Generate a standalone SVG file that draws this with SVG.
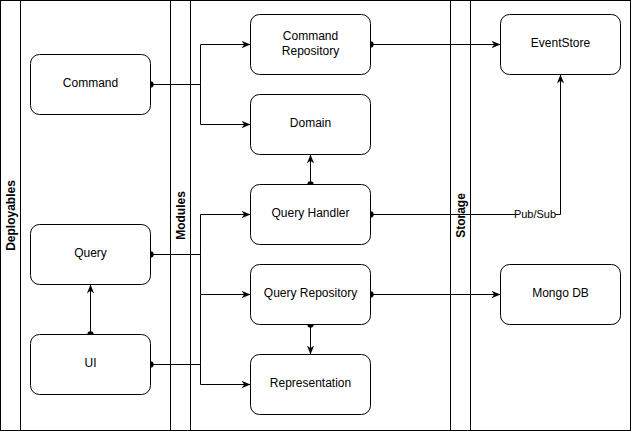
<svg xmlns="http://www.w3.org/2000/svg" width="631" height="431" viewBox="0 0 631 431">
<style>
.pool{fill:#fff;stroke:#000;stroke-width:1}
.node rect{fill:#fff;stroke:#000;stroke-width:1}
.node text{font-family:"Liberation Sans",Arial,sans-serif;font-size:12px;text-anchor:middle;fill:#000}
.ptitle{font-family:"Liberation Sans",Arial,sans-serif;font-size:12px;font-weight:bold;text-anchor:middle;fill:#000}
.edge{fill:none;stroke:#000;stroke-width:1}
.lbl{font-family:"Liberation Sans",Arial,sans-serif;font-size:11px;text-anchor:middle;fill:#000}
</style>
<defs>
<marker id="arr" viewBox="0 0 10 10" refX="10" refY="5" markerWidth="9" markerHeight="9" markerUnits="userSpaceOnUse" orient="auto">
<path d="M0,1 L10,5 L0,9 L3,5 Z" fill="#000"/>
</marker>
<marker id="dot" viewBox="0 0 10 10" refX="5" refY="5" markerWidth="7" markerHeight="7" markerUnits="userSpaceOnUse" orient="auto">
<circle cx="5" cy="5" r="4.5" fill="#000"/>
</marker>
</defs>
<rect width="631" height="431" fill="#fff"/>
<g id="pools">
<rect class="pool" x="0.5" y="0.5" width="630" height="430"/>
<line class="pool" x1="20.5" y1="0.5" x2="20.5" y2="430.5"/>
<line class="pool" x1="170.5" y1="0.5" x2="170.5" y2="430.5"/>
<line class="pool" x1="190.5" y1="0.5" x2="190.5" y2="430.5"/>
<line class="pool" x1="450.5" y1="0.5" x2="450.5" y2="430.5"/>
<line class="pool" x1="470.5" y1="0.5" x2="470.5" y2="430.5"/>
<text class="ptitle" transform="translate(14.5,215.5) rotate(-90)">Deployables</text>
<text class="ptitle" transform="translate(184.5,215.5) rotate(-90)">Modules</text>
<text class="ptitle" transform="translate(464.5,215.5) rotate(-90)">Storage</text>
</g>
<g id="connectors">
<path class="edge" d="M150.5,84.5 H200.5 V44.5 H250.5" marker-start="url(#dot)" marker-end="url(#arr)"/>
<path class="edge" d="M200.5,84.5 V124.5 H250.5" marker-end="url(#arr)"/>
<path class="edge" d="M150.5,254.5 H200.5 V214.5 H250.5" marker-start="url(#dot)" marker-end="url(#arr)"/>
<path class="edge" d="M200.5,254.5 V294.5 H250.5" marker-end="url(#arr)"/>
<path class="edge" d="M150.5,364.5 H200.5 V384.5 H250.5" marker-start="url(#dot)" marker-end="url(#arr)"/>
<path class="edge" d="M200.5,364.5 V294.5"/>
<path class="edge" d="M90.5,334.5 V284.5" marker-start="url(#dot)" marker-end="url(#arr)"/>
<path class="edge" d="M310.5,184.5 V154.5" marker-start="url(#dot)" marker-end="url(#arr)"/>
<path class="edge" d="M310.5,324.5 V354.5" marker-start="url(#dot)" marker-end="url(#arr)"/>
<path class="edge" d="M370.5,44.5 H500.5" marker-start="url(#dot)" marker-end="url(#arr)"/>
<path class="edge" d="M370.5,294.5 H500.5" marker-start="url(#dot)" marker-end="url(#arr)"/>
<path class="edge" d="M370.5,214.5 H560.5 V74.5" marker-start="url(#dot)" marker-end="url(#arr)"/>
<rect x="515" y="207" width="40" height="14" fill="#fff"/>
<text class="lbl" x="535" y="217.5">Pub/Sub</text>
</g>
<g id="command" class="node"><rect x="30.5" y="54.5" width="120" height="60" rx="9"/><text x="90.5" y="87">Command</text></g>
<g id="query" class="node"><rect x="30.5" y="224.5" width="120" height="60" rx="9"/><text x="90.5" y="257">Query</text></g>
<g id="ui" class="node"><rect x="30.5" y="334.5" width="120" height="60" rx="9"/><text x="90.5" y="367">UI</text></g>
<g id="command-repository" class="node"><rect x="250.5" y="14.5" width="120" height="60" rx="9"/><text x="310.5" y="39.5">Command</text><text x="310.5" y="54.5">Repository</text></g>
<g id="domain" class="node"><rect x="250.5" y="94.5" width="120" height="60" rx="9"/><text x="310.5" y="127">Domain</text></g>
<g id="query-handler" class="node"><rect x="250.5" y="184.5" width="120" height="60" rx="9"/><text x="310.5" y="217">Query Handler</text></g>
<g id="query-repository" class="node"><rect x="250.5" y="264.5" width="120" height="60" rx="9"/><text x="310.5" y="297">Query Repository</text></g>
<g id="representation" class="node"><rect x="250.5" y="354.5" width="120" height="60" rx="9"/><text x="310.5" y="387">Representation</text></g>
<g id="eventstore" class="node"><rect x="500.5" y="14.5" width="120" height="60" rx="9"/><text x="560.5" y="47">EventStore</text></g>
<g id="mongodb" class="node"><rect x="500.5" y="264.5" width="120" height="60" rx="9"/><text x="560.5" y="297">Mongo DB</text></g>
</svg>
